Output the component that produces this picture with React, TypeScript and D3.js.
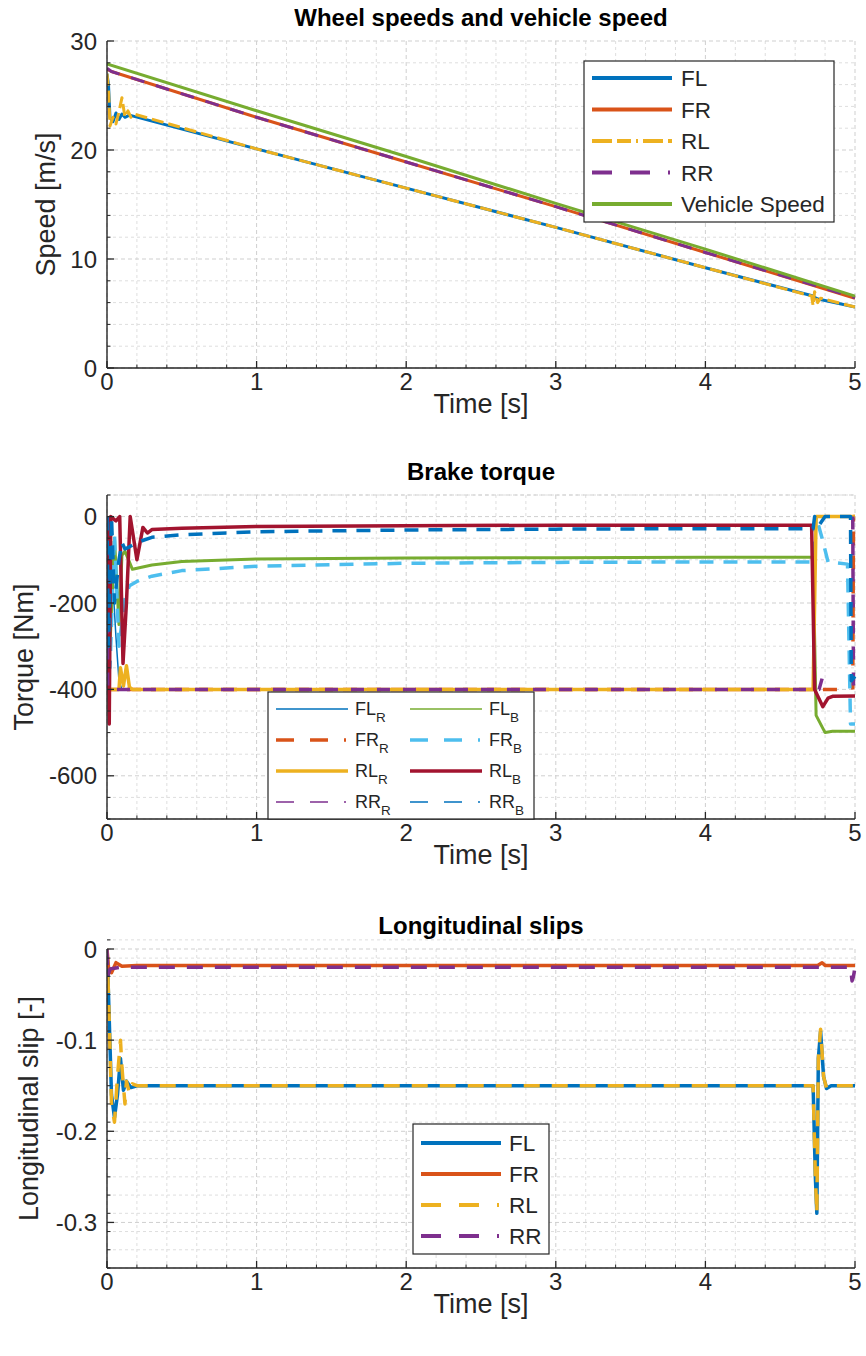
import React from 'react';
import * as d3 from 'd3';

const W = 866;
const H = 1356;
const FONT = '"Liberation Sans", Arial, Helvetica, sans-serif';

const xTicks = [0, 1, 2, 3, 4, 5];

// ---------- Wheel speeds ----------
const speedTicks = [0, 10, 20, 30];
const flSpeedTime = [0, 0.01, 0.02, 0.04, 0.06, 0.08, 0.1, 0.12, 0.15, 1, 2, 3, 4, 4.72, 4.74, 4.76, 5];
const flSpeed = [27.0, 26.0, 23.0, 22.6, 23.4, 22.8, 23.3, 23.0, 23.2, 20.1, 16.5, 12.9, 9.2, 6.6, 6.4, 6.3, 5.6];
const frSpeedTime = [0, 0.03, 1, 2, 3, 4, 5];
const frSpeed = [27.4, 27.2, 23.0, 18.9, 14.8, 10.6, 6.4];
const rlSpeedTime = [0, 0.01, 0.02, 0.04, 0.06, 0.08, 0.1, 0.12, 0.14, 0.16, 0.18, 1, 2, 3, 4, 4.71, 4.72, 4.73, 4.75, 4.77, 5];
const rlSpeed = [27.0, 25.5, 22.2, 23.0, 22.4, 23.5, 24.8, 23.0, 23.6, 23.0, 23.3, 20.1, 16.5, 12.9, 9.2, 6.6, 5.7, 7.0, 6.0, 6.4, 5.6];
const rrSpeedTime = [0, 0.03, 1, 2, 3, 4, 5];
const rrSpeed = [27.5, 27.2, 23.0, 18.9, 14.8, 10.6, 6.45];
const vehSpeedTime = [0, 1, 2, 3, 4, 5];
const vehSpeed = [27.9, 23.6, 19.4, 15.1, 10.9, 6.6];

// ---------- Brake torque ----------
const torqueTicks = [0, -200, -400, -600];
const flRTime = [0, 0.03, 0.06, 0.08, 0.1, 4.72, 4.74, 5];
const flRTorque = [0, -100, -280, -380, -400, -400, 0, 0];
const flBTime = [0, 0.02, 0.05, 0.08, 0.1, 0.12, 0.17, 0.3, 0.5, 1, 2, 3, 4, 4.72, 4.74, 4.8, 4.85, 5];
const flBTorque = [0, -300, -50, -250, -90, -80, -122, -112, -104, -98, -96, -95, -94, -94, -460, -500, -497, -497];
const frRTime = [0, 0.005, 4.9, 4.91, 4.985, 4.99, 5];
const frRTorque = [0, -400, -400, NaN, -400, 0, 0];
const frBTime = [0, 0.02, 0.05, 0.08, 0.12, 0.15, 0.2, 0.3, 0.5, 1, 2, 3, 4, 4.72, 4.74, 4.78, 4.82, 4.95, 4.97, 5];
const frBTorque = [0, -350, -40, -300, -190, -160, -150, -138, -125, -115, -108, -106, -105, -105, 0, -50, -105, -110, -480, -480];
const rlRTime = [0, 0.005, 0.08, 0.09, 0.11, 0.13, 0.15, 0.17, 4.72, 4.74, 5];
const rlRTorque = [0, -400, -400, -350, -392, -345, -395, -400, -400, 0, 0];
const rlBTime = [0, 0.005, 0.015, 0.025, 0.06, 0.085, 0.107, 0.13, 0.155, 0.2, 0.24, 0.27, 0.3, 0.5, 1, 2, 3, 4, 4.71, 4.73, 4.785, 4.82, 4.85, 5];
const rlBTorque = [0, -200, -480, 0, -10, 0, -340, -200, 0, -100, -25, -38, -30, -27, -23, -21, -20, -20, -20, -400, -440, -420, -416, -415];
const rrRTime = [0, 0.005, 4.76, 4.78, 4.79, 4.985, 4.99, 5];
const rrRTorque = [0, -400, -400, -375, NaN, 0, -400, -400];
const rrBTime = [0, 0.01, 0.03, 0.05, 0.08, 0.1, 0.12, 0.15, 0.2, 0.3, 0.5, 1, 2, 3, 4, 4.72, 4.73, 4.76, 4.8, 4.97, 4.975, 5];
const rrBTorque = [0, -300, 0, -200, -100, -60, -75, -70, -60, -48, -42, -35, -31, -29, -28, -28, 0, -20, 0, 0, -380, -370];

// ---------- Longitudinal slips ----------
const slipTicks = [0, -0.1, -0.2, -0.3];
const flSlipTime = [0, 0.01, 0.03, 0.05, 0.07, 0.09, 0.11, 0.13, 0.16, 0.2, 4.72, 4.735, 4.745, 4.755, 4.77, 4.79, 4.81, 4.84, 5];
const flSlip = [0, -0.05, -0.16, -0.185, -0.16, -0.12, -0.155, -0.145, -0.152, -0.15, -0.15, -0.25, -0.29, -0.12, -0.09, -0.14, -0.153, -0.15, -0.15];
const frSlipTime = [0, 0.01, 0.03, 0.06, 0.1, 0.2, 4.75, 4.78, 4.8, 5];
const frSlip = [0, -0.02, -0.026, -0.015, -0.019, -0.018, -0.018, -0.015, -0.018, -0.018];
const rlSlipTime = [0, 0.01, 0.03, 0.05, 0.07, 0.09, 0.1, 0.12, 0.13, 0.15, 0.17, 0.2, 4.72, 4.735, 4.745, 4.755, 4.77, 4.79, 4.81, 4.84, 5];
const rlSlip = [0, -0.05, -0.17, -0.19, -0.14, -0.1, -0.13, -0.17, -0.145, -0.158, -0.148, -0.15, -0.15, -0.25, -0.29, -0.12, -0.088, -0.14, -0.153, -0.15, -0.15];
const rrSlipTime = [0, 0.005, 0.02, 0.05, 0.1, 0.3, 4.97, 4.98, 4.99, 5];
const rrSlip = [0, -0.03, -0.022, -0.021, -0.02, -0.02, -0.02, -0.035, -0.03, -0.02];

type Series = {
  t: number[];
  v: number[];
  color: string;
  width: number;
  dash?: string;
};

type PlotProps = {
  id: string;
  top: number;
  bottom: number;
  yDomain: [number, number];
  yTicks: number[];
  yTickFmt: (v: number) => string;
  yMinorStep: number;
  title: string;
  ylabel: string;
  ylabelX: number;
  series: Series[];
  children?: React.ReactNode;
};

const LEFT = 107;
const RIGHT = 855;
const AXIS_COLOR = '#262626';
const TICK_FS = 24;
const LABEL_FS = 27;
const TITLE_FS = 24;

function yTicksWithTop(p: PlotProps) {
  const arr = [...p.yTicks];
  if (!arr.some((t) => Math.abs(t - p.yDomain[1]) < 1e-9)) arr.push(p.yDomain[1]);
  return arr;
}

function Plot(p: PlotProps) {
  const x = d3.scaleLinear().domain([0, 5]).range([LEFT, RIGHT]);
  const y = d3.scaleLinear().domain(p.yDomain).range([p.bottom, p.top]);
  const xMinor = d3.range(0, 5.0001, 0.2).filter((v) => Math.abs(v - Math.round(v)) > 1e-6);
  const nMinor = Math.round((p.yDomain[1] - p.yDomain[0]) / p.yMinorStep);
  const yMinorAll = d3.range(0, nMinor + 1).map((i) => p.yDomain[0] + i * p.yMinorStep);
  const yMinor = yMinorAll.filter((v) => !p.yTicks.some((t) => Math.abs(t - v) < 1e-9));
  const line = d3
    .line<[number, number]>()
    .defined((d) => !Number.isNaN(d[1]))
    .x((d) => x(d[0]))
    .y((d) => y(d[1]));
  const cx = (LEFT + RIGHT) / 2;
  const cy = (p.top + p.bottom) / 2;
  return (
    <g>
      <defs>
        <clipPath id={`clip-${p.id}`}>
          <rect x={LEFT} y={p.top - 3} width={RIGHT - LEFT + 3} height={p.bottom - p.top + 6} />
        </clipPath>
      </defs>
      {xMinor.map((v) => (
        <line key={`xm${v}`} x1={x(v)} x2={x(v)} y1={p.top} y2={p.bottom} stroke="#dedede" strokeWidth={1} strokeDasharray="3 3" />
      ))}
      {yMinor.map((v) => (
        <line key={`ym${v}`} x1={LEFT} x2={RIGHT} y1={y(v)} y2={y(v)} stroke="#dedede" strokeWidth={1} strokeDasharray="3 3" />
      ))}
      {xTicks.map((v) => (
        <line key={`xg${v}`} x1={x(v)} x2={x(v)} y1={p.top} y2={p.bottom} stroke="#cfcfcf" strokeWidth={1} strokeDasharray="4 3" />
      ))}
      {yTicksWithTop(p).map((v) => (
        <line key={`yg${v}`} x1={LEFT} x2={RIGHT} y1={y(v)} y2={y(v)} stroke="#cfcfcf" strokeWidth={1} strokeDasharray="4 3" />
      ))}
      <g clipPath={`url(#clip-${p.id})`}>
        {p.series.map((s, i) => (
          <path
            key={i}
            d={line(s.t.map((t, j) => [t, s.v[j]] as [number, number])) || ''}
            fill="none"
            stroke={s.color}
            strokeWidth={s.width}
            strokeDasharray={s.dash}
            strokeLinejoin="round"
          />
        ))}
      </g>
      <line x1={LEFT} x2={LEFT} y1={p.top} y2={p.bottom} stroke={AXIS_COLOR} strokeWidth={1.4} />
      <line x1={LEFT} x2={RIGHT} y1={p.bottom} y2={p.bottom} stroke={AXIS_COLOR} strokeWidth={1.4} />
      {xTicks.map((v) => (
        <g key={`xt${v}`}>
          <line x1={x(v)} x2={x(v)} y1={p.bottom} y2={p.bottom - 7} stroke={AXIS_COLOR} strokeWidth={1.3} />
          <text x={x(v)} y={p.bottom + 22} textAnchor="middle" fontSize={TICK_FS} fill={AXIS_COLOR} fontFamily={FONT}>
            {v}
          </text>
        </g>
      ))}
      {xMinor.map((v) => (
        <line key={`xmt${v}`} x1={x(v)} x2={x(v)} y1={p.bottom} y2={p.bottom - 3.5} stroke={AXIS_COLOR} strokeWidth={1} />
      ))}
      {p.yTicks.map((v) => (
        <g key={`yt${v}`}>
          <line x1={LEFT} x2={LEFT + 7} y1={y(v)} y2={y(v)} stroke={AXIS_COLOR} strokeWidth={1.3} />
          <text x={LEFT - 10} y={y(v) + 8.5} textAnchor="end" fontSize={TICK_FS} fill={AXIS_COLOR} fontFamily={FONT}>
            {p.yTickFmt(v)}
          </text>
        </g>
      ))}
      {yMinor.map((v) => (
        <line key={`ymt${v}`} x1={LEFT} x2={LEFT + 3.5} y1={y(v)} y2={y(v)} stroke={AXIS_COLOR} strokeWidth={1} />
      ))}
      <text x={cx} y={p.top - 15} textAnchor="middle" fontSize={TITLE_FS} fontWeight="bold" fill="#000" fontFamily={FONT}>
        {p.title}
      </text>
      <text x={cx} y={p.bottom + 45} textAnchor="middle" fontSize={LABEL_FS} fill={AXIS_COLOR} fontFamily={FONT}>
        Time [s]
      </text>
      <text
        transform={`translate(${p.ylabelX},${cy}) rotate(-90)`}
        textAnchor="middle"
        fontSize={LABEL_FS}
        fill={AXIS_COLOR}
        fontFamily={FONT}
      >
        {p.ylabel}
      </text>
      {p.children}
    </g>
  );
}

type LegendItem = { label: string; sub?: string; color: string; width: number; dash?: string };

function Legend(props: {
  x: number;
  y: number;
  w: number;
  h: number;
  items: LegendItem[];
  cols: number;
  rowH: number;
  firstRowY: number;
  colW: number;
  lineLen: number;
  fontSize: number;
  textGap: number;
}) {
  return (
    <g>
      <rect x={props.x} y={props.y} width={props.w} height={props.h} fill="#fff" stroke={AXIS_COLOR} strokeWidth={1.2} />
      {props.items.map((it, i) => {
        const r = Math.floor(i / props.cols);
        const c = i % props.cols;
        const ly = props.y + props.firstRowY + r * props.rowH;
        const lx = props.x + 8 + c * props.colW;
        return (
          <g key={i}>
            <line x1={lx} x2={lx + props.lineLen} y1={ly} y2={ly} stroke={it.color} strokeWidth={it.width} strokeDasharray={it.dash} />
            <text x={lx + props.lineLen + props.textGap} y={ly + props.fontSize * 0.36} fontSize={props.fontSize} fill={AXIS_COLOR} fontFamily={FONT}>
              {it.label}
              {it.sub ? (
                <tspan fontSize={props.fontSize * 0.75} dy={props.fontSize * 0.35}>
                  {it.sub}
                </tspan>
              ) : null}
            </text>
          </g>
        );
      })}
    </g>
  );
}

const C_BLUE = '#0072BD';
const C_ORANGE = '#D95319';
const C_YELLOW = '#EDB120';
const C_PURPLE = '#7E2F8E';
const C_GREEN = '#77AC30';
const C_LBLUE = '#4DBEEE';
const C_RED = '#A2142F';

export default function App() {
  const speedSeries: Series[] = [
    { t: flSpeedTime, v: flSpeed, color: C_BLUE, width: 3 },
    { t: frSpeedTime, v: frSpeed, color: C_ORANGE, width: 3 },
    { t: rlSpeedTime, v: rlSpeed, color: C_YELLOW, width: 3, dash: '12 5' },
    { t: rrSpeedTime, v: rrSpeed, color: C_PURPLE, width: 3, dash: '14 12' },
    { t: vehSpeedTime, v: vehSpeed, color: C_GREEN, width: 3 },
  ];
  const torqueSeries: Series[] = [
    { t: flRTime, v: flRTorque, color: C_BLUE, width: 1.5 },
    { t: flBTime, v: flBTorque, color: C_GREEN, width: 3 },
    { t: frRTime, v: frRTorque, color: C_ORANGE, width: 3.5, dash: '14 10' },
    { t: frBTime, v: frBTorque, color: C_LBLUE, width: 3.5, dash: '14 10' },
    { t: rlRTime, v: rlRTorque, color: C_YELLOW, width: 3.5 },
    { t: rlBTime, v: rlBTorque, color: C_RED, width: 3.5 },
    { t: rrRTime, v: rrRTorque, color: C_PURPLE, width: 3.5, dash: '13 13' },
    { t: rrBTime, v: rrBTorque, color: C_BLUE, width: 3.5, dash: '14 10' },
  ];
  const slipSeries: Series[] = [
    { t: flSlipTime, v: flSlip, color: C_BLUE, width: 3.5 },
    { t: frSlipTime, v: frSlip, color: C_ORANGE, width: 3.5 },
    { t: rlSlipTime, v: rlSlip, color: C_YELLOW, width: 3.5, dash: '16 12' },
    { t: rrSlipTime, v: rrSlip, color: C_PURPLE, width: 3.5, dash: '16 12' },
  ];

  return (
    <svg width={W} height={H} style={{ position: 'absolute', left: 0, top: 0, background: '#fff' }}>
      <rect x={0} y={0} width={W} height={H} fill="#fff" />
      <Plot
        id="speed"
        top={41}
        bottom={368}
        yDomain={[0, 30]}
        yTicks={speedTicks}
        yTickFmt={(v) => String(v)}
        yMinorStep={2}
        title="Wheel speeds and vehicle speed"
        ylabel="Speed [m/s]"
        ylabelX={55}
        series={speedSeries}
      >
        <Legend
          x={584}
          y={61}
          w={250}
          h={161}
          cols={1}
          rowH={31.5}
          firstRowY={17}
          colW={0}
          lineLen={80}
          fontSize={22.5}
          textGap={9}
          items={[
            { label: 'FL', color: C_BLUE, width: 4 },
            { label: 'FR', color: C_ORANGE, width: 4 },
            { label: 'RL', color: C_YELLOW, width: 4, dash: '20 5 14 5 2 5' },
            { label: 'RR', color: C_PURPLE, width: 4, dash: '20 18 20 18 2' },
            { label: 'Vehicle Speed', color: C_GREEN, width: 4 },
          ]}
        />
      </Plot>
      <Plot
        id="torque"
        top={495}
        bottom={819}
        yDomain={[-700, 50]}
        yTicks={torqueTicks}
        yTickFmt={(v) => String(v)}
        yMinorStep={50}
        title="Brake torque"
        ylabel="Torque [Nm]"
        ylabelX={33}
        series={torqueSeries}
      >
        <Legend
          x={268}
          y={692}
          w={266}
          h={127}
          cols={2}
          rowH={31}
          firstRowY={17}
          colW={134}
          lineLen={72}
          fontSize={18}
          textGap={7}
          items={[
            { label: 'FL', sub: 'R', color: C_BLUE, width: 1.3 },
            { label: 'FL', sub: 'B', color: C_GREEN, width: 1.3 },
            { label: 'FR', sub: 'R', color: C_ORANGE, width: 3.5, dash: '18 16 18 16 2' },
            { label: 'FR', sub: 'B', color: C_LBLUE, width: 3.5, dash: '18 16 18 16 2' },
            { label: 'RL', sub: 'R', color: C_YELLOW, width: 3.5 },
            { label: 'RL', sub: 'B', color: C_RED, width: 3.5 },
            { label: 'RR', sub: 'R', color: C_PURPLE, width: 1.3, dash: '18 16 18 16 2' },
            { label: 'RR', sub: 'B', color: C_BLUE, width: 1.3, dash: '18 16 18 16 2' },
          ]}
        />
      </Plot>
      <Plot
        id="slip"
        top={949}
        bottom={1268}
        yDomain={[-0.35, 0]}
        yTicks={slipTicks}
        yTickFmt={(v) => (v === 0 ? '0' : d3.format('.1f')(v).replace('−', '-'))}
        yMinorStep={0.02}
        title="Longitudinal slips"
        ylabel="Longitudinal slip [-]"
        ylabelX={38}
        series={slipSeries}
      >
        <Legend
          x={413}
          y={1124}
          w={136}
          h={130}
          cols={1}
          rowH={31}
          firstRowY={19}
          colW={0}
          lineLen={80}
          fontSize={22.5}
          textGap={8}
          items={[
            { label: 'FL', color: C_BLUE, width: 4 },
            { label: 'FR', color: C_ORANGE, width: 4 },
            { label: 'RL', color: C_YELLOW, width: 4, dash: '20 18 20 18 2' },
            { label: 'RR', color: C_PURPLE, width: 4, dash: '20 18 20 18 2' },
          ]}
        />
      </Plot>
    </svg>
  );
}
